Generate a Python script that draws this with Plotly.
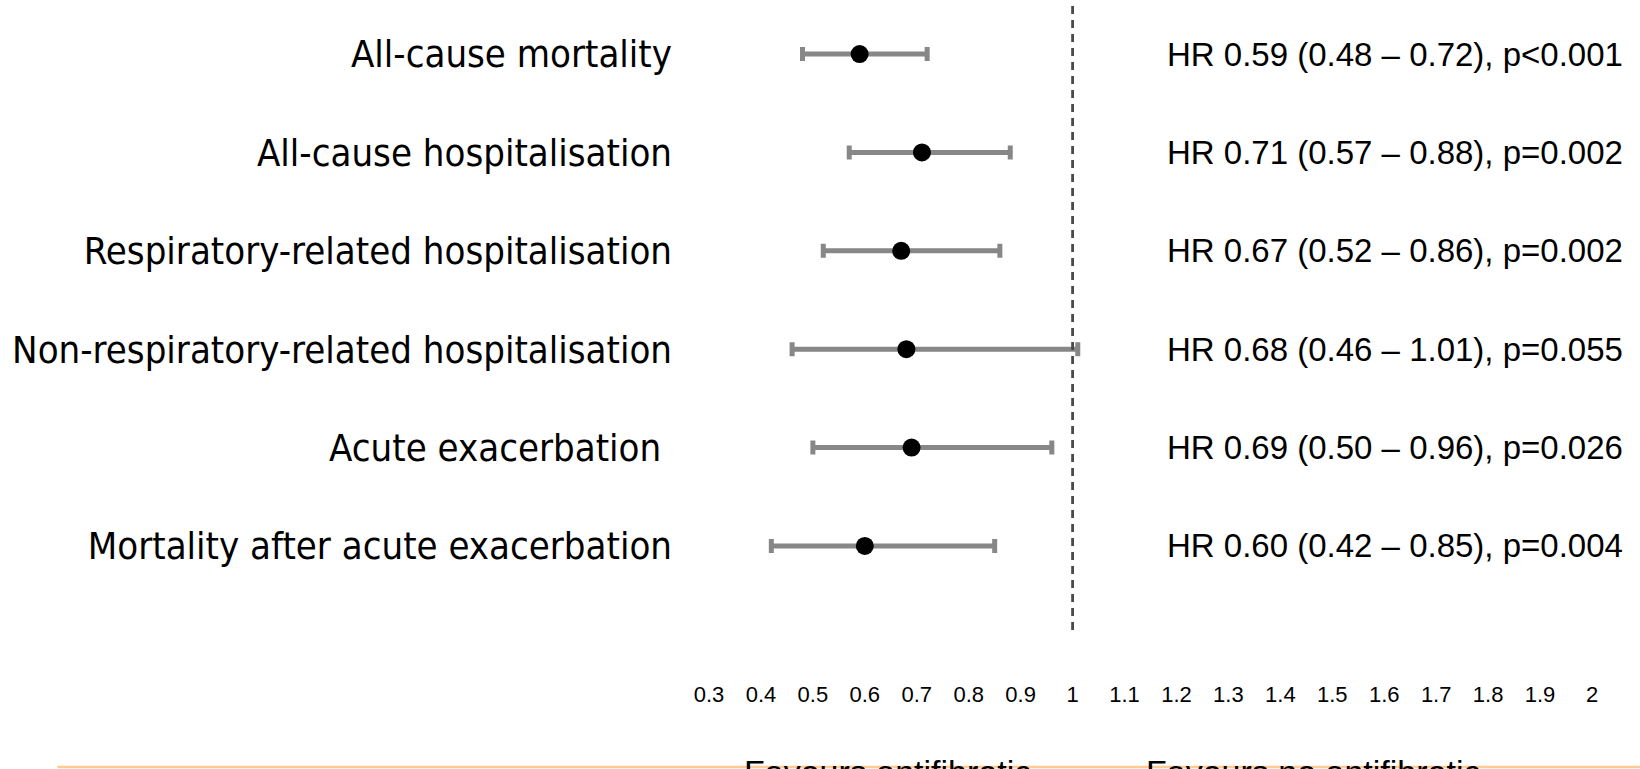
import plotly.graph_objects as go

outcomes = [
    "All-cause mortality",
    "All-cause hospitalisation",
    "Respiratory-related hospitalisation",
    "Non-respiratory-related hospitalisation",
    "Acute exacerbation\u00a0",
    "Mortality after acute exacerbation",
]
hr = [0.59, 0.71, 0.67, 0.68, 0.69, 0.60]
ci_low = [0.48, 0.57, 0.52, 0.46, 0.50, 0.42]
ci_high = [0.72, 0.88, 0.86, 1.01, 0.96, 0.85]
p_text = ["p<0.001", "p=0.002", "p=0.002", "p=0.055", "p=0.026", "p=0.004"]
x_ticks = [0.3, 0.4, 0.5, 0.6, 0.7, 0.8, 0.9, 1.0, 1.1, 1.2, 1.3, 1.4, 1.5, 1.6, 1.7, 1.8, 1.9, 2.0]
x_tick_labels = ["0.3", "0.4", "0.5", "0.6", "0.7", "0.8", "0.9", "1", "1.1", "1.2", "1.3",
                 "1.4", "1.5", "1.6", "1.7", "1.8", "1.9", "2"]
favour_labels = ["Favours antifibrotic", "Favours no antifibrotic"]

rows = list(range(1, len(outcomes) + 1))
LABEL_FONT = "DejaVu Sans Condensed, DejaVu Sans, sans-serif"
HR_FONT = "Liberation Sans, Arial, sans-serif"

fig = go.Figure()
fig.add_trace(go.Scatter(
    x=hr, y=rows, mode="markers",
    marker=dict(color="black", size=18),
    error_x=dict(type="data", symmetric=False,
                 array=[hi - v for v, hi in zip(hr, ci_high)],
                 arrayminus=[v - lo for v, lo in zip(hr, ci_low)],
                 color="#878787", thickness=5, width=7),
    showlegend=False, hoverinfo="skip",
))

fig.add_shape(type="line", xref="x", yref="paper", x0=1, x1=1, y0=0, y1=0.995,
              line=dict(color="#4a4a4a", width=2.8, dash="8px,6px"))

for r, v, lo, hi, p in zip(rows, hr, ci_low, ci_high, p_text):
    fig.add_annotation(xref="paper", yref="y", x=0.5175, y=r, xanchor="left", yanchor="middle",
                       text=f"HR {v:.2f} ({lo:.2f} \u2013 {hi:.2f}), {p}", showarrow=False,
                       borderpad=0, font=dict(family=HR_FONT, size=33, color="black"))

for xp, t in zip([0.0385, 0.4935], favour_labels):
    fig.add_annotation(xref="paper", yref="paper", x=xp, y=-0.193, xanchor="left", yanchor="top",
                       text=t, showarrow=False, borderpad=0,
                       font=dict(family=HR_FONT, size=34, color="black"))

fig.add_shape(type="line", xref="paper", yref="paper", x0=-0.738, x1=1.06, y0=-0.2175, y1=-0.2175,
              line=dict(color="#FDCB93", width=2.5))

fig.update_layout(
    width=1640, height=769, autosize=False,
    margin=dict(l=709, r=48, t=0, b=139),
    plot_bgcolor="white", paper_bgcolor="white",
    xaxis=dict(range=[0.3, 2.0], tickvals=x_ticks, ticktext=x_tick_labels, showgrid=False,
               zeroline=False, showline=False, ticks="", ticklabelstandoff=49, automargin=False,
               tickfont=dict(family=HR_FONT, size=22, color="black")),
    yaxis=dict(range=[6.854, 0.451], tickvals=rows, ticktext=outcomes, showgrid=False,
               zeroline=False, showline=False, ticks="", ticklabelstandoff=36, automargin=False,
               tickfont=dict(family=LABEL_FONT, size=38, color="black")),
)

fig.write_html("out.html", config={"displayModeBar": False},
               post_script="document.body.style.margin='0';document.body.style.overflow='hidden';")
